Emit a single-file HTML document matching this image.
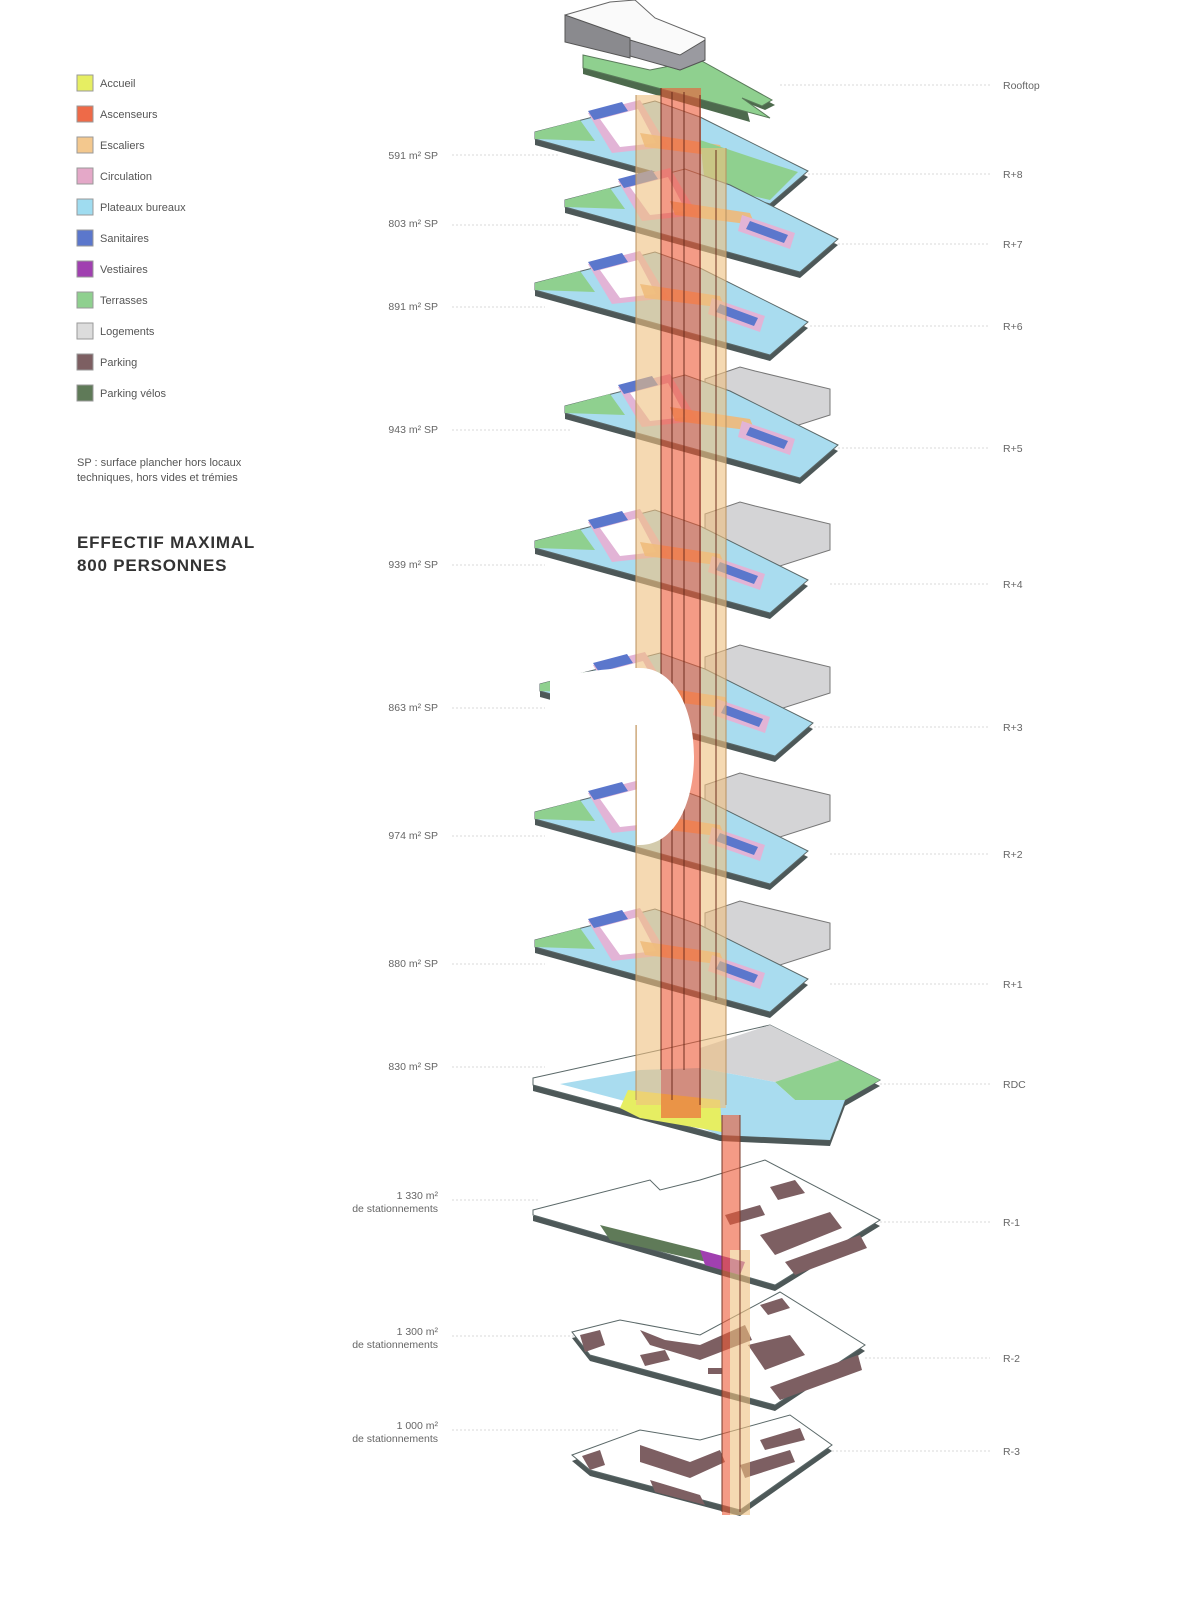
<!DOCTYPE html>
<html><head><meta charset="utf-8">
<style>
html,body{margin:0;padding:0;background:#fff;}
svg{display:block;font-family:"Liberation Sans",sans-serif;}
.lg{font-size:11px;fill:#555;}
.lb{font-size:10.5px;fill:#666;}
.ld{stroke:#d8d8d8;stroke-width:1;stroke-dasharray:2 2;}
</style></head><body>
<svg width="1180" height="1600" viewBox="0 0 1180 1600" xmlns="http://www.w3.org/2000/svg">
<defs>
<g id="fl">
  <polygon points="535,-17 655,-48 700,-32 808,22 770,55 535,-10" fill="#4d5858"/>
  <polygon points="535,-23 655,-54 700,-38 808,16 770,49 535,-16" fill="#a9dcef" stroke="#5a6868" stroke-width="1"/>
  <polygon points="535,-23 580,-35 595,-14 535,-16" fill="#8fd08f"/>
  <polygon points="588,-42 640,-55 668,-8 612,-2" fill="#e2b4d6"/>
  <polygon points="600,-36 638,-46 656,-12 620,-8" fill="#ffffff"/>
  <polygon points="588,-44 622,-53 628,-44 594,-35" fill="#5b77cc"/>
  <polygon points="640,-22 720,-10 725,2 645,-8" fill="#f0b878" opacity="0.9"/>
  <polygon points="712,-8 765,10 760,26 708,8" fill="#e2b4d6"/>
  <polygon points="720,-2 758,12 754,20 716,6" fill="#5b77cc"/>
</g>
<g id="gray">
  <polygon points="705,-50 740,-62 755,-58 830,-40 830,-14 780,2 760,-8 705,-28" fill="#d4d4d6" stroke="#777" stroke-width="1"/>
</g>
</defs>

<g>
<rect x="77" y="75" width="16" height="16" fill="#e6ee62" stroke="#999"/><text class="lg" x="100" y="87">Accueil</text>
<rect x="77" y="106" width="16" height="16" fill="#ee6a48" stroke="#999"/><text class="lg" x="100" y="118">Ascenseurs</text>
<rect x="77" y="137" width="16" height="16" fill="#f3c88e" stroke="#999"/><text class="lg" x="100" y="149">Escaliers</text>
<rect x="77" y="168" width="16" height="16" fill="#e4a8c8" stroke="#999"/><text class="lg" x="100" y="180">Circulation</text>
<rect x="77" y="199" width="16" height="16" fill="#9fdcf0" stroke="#999"/><text class="lg" x="100" y="211">Plateaux bureaux</text>
<rect x="77" y="230" width="16" height="16" fill="#5b77cc" stroke="#999"/><text class="lg" x="100" y="242">Sanitaires</text>
<rect x="77" y="261" width="16" height="16" fill="#a040b0" stroke="#999"/><text class="lg" x="100" y="273">Vestiaires</text>
<rect x="77" y="292" width="16" height="16" fill="#8fd08f" stroke="#999"/><text class="lg" x="100" y="304">Terrasses</text>
<rect x="77" y="323" width="16" height="16" fill="#dcdcdc" stroke="#999"/><text class="lg" x="100" y="335">Logements</text>
<rect x="77" y="354" width="16" height="16" fill="#7d5f62" stroke="#999"/><text class="lg" x="100" y="366">Parking</text>
<rect x="77" y="385" width="16" height="16" fill="#5f7a58" stroke="#999"/><text class="lg" x="100" y="397">Parking vélos</text>
<text class="lg" x="77" y="466" font-size="10.5">SP : surface plancher hors locaux</text>
<text class="lg" x="77" y="481" font-size="10.5">techniques, hors vides et trémies</text>
<text x="77" y="548" font-size="17" font-weight="bold" fill="#333" letter-spacing="0.8">EFFECTIF MAXIMAL</text>
<text x="77" y="571" font-size="17" font-weight="bold" fill="#333" letter-spacing="0.8">800 PERSONNES</text>
</g>

<g class="ld">
<line x1="452" y1="155" x2="560" y2="155"/><line x1="452" y1="225" x2="580" y2="225"/>
<line x1="452" y1="307" x2="545" y2="307"/><line x1="452" y1="430" x2="570" y2="430"/>
<line x1="452" y1="565" x2="545" y2="565"/><line x1="452" y1="708" x2="545" y2="708"/>
<line x1="452" y1="836" x2="545" y2="836"/><line x1="452" y1="964" x2="545" y2="964"/>
<line x1="452" y1="1067" x2="545" y2="1067"/><line x1="452" y1="1200" x2="540" y2="1200"/>
<line x1="452" y1="1336" x2="575" y2="1336"/><line x1="452" y1="1430" x2="620" y2="1430"/>
<line x1="780" y1="85" x2="990" y2="85"/><line x1="800" y1="174" x2="990" y2="174"/>
<line x1="810" y1="244" x2="990" y2="244"/><line x1="810" y1="326" x2="990" y2="326"/>
<line x1="830" y1="448" x2="990" y2="448"/><line x1="830" y1="584" x2="990" y2="584"/>
<line x1="810" y1="727" x2="990" y2="727"/><line x1="830" y1="854" x2="990" y2="854"/>
<line x1="830" y1="984" x2="990" y2="984"/><line x1="880" y1="1084" x2="990" y2="1084"/>
<line x1="880" y1="1222" x2="990" y2="1222"/><line x1="865" y1="1358" x2="990" y2="1358"/>
<line x1="832" y1="1451" x2="990" y2="1451"/>
</g>

<g class="lb" text-anchor="end">
<text x="438" y="159">591 m² SP</text><text x="438" y="227">803 m² SP</text>
<text x="438" y="310">891 m² SP</text><text x="438" y="433">943 m² SP</text>
<text x="438" y="568">939 m² SP</text><text x="438" y="711">863 m² SP</text>
<text x="438" y="839">974 m² SP</text><text x="438" y="967">880 m² SP</text>
<text x="438" y="1070">830 m² SP</text>
<text x="438" y="1199">1 330 m²</text><text x="438" y="1212">de stationnements</text>
<text x="438" y="1335">1 300 m²</text><text x="438" y="1348">de stationnements</text>
<text x="438" y="1429">1 000 m²</text><text x="438" y="1442">de stationnements</text>
</g>
<g class="lb">
<text x="1003" y="89">Rooftop</text><text x="1003" y="178">R+8</text><text x="1003" y="248">R+7</text>
<text x="1003" y="330">R+6</text><text x="1003" y="452">R+5</text><text x="1003" y="588">R+4</text>
<text x="1003" y="731">R+3</text><text x="1003" y="858">R+2</text><text x="1003" y="988">R+1</text>
<text x="1003" y="1088">RDC</text><text x="1003" y="1226">R-1</text><text x="1003" y="1362">R-2</text>
<text x="1003" y="1455">R-3</text>
</g>

<polygon points="583,60 650,75 700,65 775,105 765,110 745,102 750,122 583,74" fill="#4d6a4d"/>
<polygon points="583,55 650,70 700,60 772,100 762,106 742,98 770,118 583,68" fill="#8fd08f" stroke="#5a7a5a"/>
<polygon points="565,15 610,2 635,0 655,18 705,38 705,60 680,70 630,55 630,40 565,40" fill="#fafafa" stroke="#666"/>
<polygon points="565,15 565,42 630,58 630,38" fill="#8a8a8e" stroke="#555"/>
<polygon points="630,40 680,55 705,40 705,60 680,70 630,56" fill="#9a9aa0" stroke="#555"/>

<use href="#fl" transform="translate(0,155)"/>
<polygon points="700,140 760,160 798,172 770,200 705,185" fill="#8fd08f"/>
<use href="#fl" transform="translate(30,223)"/>
<use href="#fl" transform="translate(0,306)"/>
<use href="#gray" transform="translate(0,429)"/>
<use href="#fl" transform="translate(30,429)"/>
<use href="#gray" transform="translate(0,564)"/>
<use href="#fl" transform="translate(0,564)"/>
<use href="#gray" transform="translate(0,707)"/>
<use href="#fl" transform="translate(5,707)"/>
<use href="#gray" transform="translate(0,835)"/>
<use href="#fl" transform="translate(0,835)"/>
<use href="#gray" transform="translate(0,963)"/>
<use href="#fl" transform="translate(0,963)"/>

<polygon points="533,1084 660,1056 770,1031 880,1086 845,1106 830,1146 720,1141 533,1091" fill="#4d5858"/>
<polygon points="533,1078 660,1050 770,1025 880,1080 845,1100 830,1140 720,1135 533,1085" fill="#fff" stroke="#5a6868"/>
<polygon points="700,1048 770,1025 840,1060 775,1082 700,1068" fill="#d4d4d6"/>
<polygon points="775,1082 840,1060 880,1080 845,1100 795,1100" fill="#8fd08f"/>
<polygon points="560,1084 640,1070 700,1068 775,1082 795,1100 845,1100 830,1140 720,1135 640,1105" fill="#a9dcef"/>
<polygon points="628,1090 720,1100 722,1132 640,1118 620,1108" fill="#e6ee62"/>

<polygon points="533,1216 650,1186 660,1196 700,1186 765,1166 880,1226 775,1291 533,1221" fill="#4d5858"/>
<polygon points="533,1210 650,1180 660,1190 700,1180 765,1160 880,1220 775,1285 533,1215" fill="#fff" stroke="#5a6868"/>
<polygon points="600,1225 700,1250 720,1265 610,1240" fill="#5f7a58"/>
<polygon points="700,1250 745,1262 740,1275 705,1265" fill="#a040b0"/>
<g fill="#7d5f62">
<polygon points="770,1187 795,1180 805,1193 778,1200"/>
<polygon points="725,1215 760,1205 765,1215 730,1225"/>
<polygon points="760,1235 830,1212 842,1228 775,1255"/>
<polygon points="785,1262 860,1235 867,1248 795,1275"/>
</g>
<polygon points="572,1338 620,1326 700,1341 780,1298 865,1351 775,1411 590,1361" fill="#4d5858"/>
<polygon points="572,1332 620,1320 700,1335 780,1292 865,1345 775,1405 590,1355" fill="#fff" stroke="#5a6868"/>
<g fill="#7d5f62">
<polygon points="580,1335 600,1330 605,1345 585,1352"/>
<polygon points="640,1330 665,1340 700,1345 745,1325 752,1340 700,1360 650,1345"/>
<polygon points="640,1355 665,1350 670,1360 645,1366"/>
<polygon points="760,1305 782,1298 790,1308 768,1315"/>
<polygon points="748,1345 790,1335 805,1355 765,1370"/>
<polygon points="770,1387 858,1355 862,1370 780,1400"/>
<rect x="708" y="1368" width="14" height="6"/>
</g>
<polygon points="572,1461 640,1436 700,1446 790,1421 832,1451 740,1516 590,1476" fill="#4d5858"/>
<polygon points="572,1455 640,1430 700,1440 790,1415 832,1445 740,1510 590,1470" fill="#fff" stroke="#5a6868"/>
<g fill="#7d5f62">
<polygon points="582,1456 600,1450 605,1465 590,1470"/>
<polygon points="640,1445 690,1462 720,1450 725,1462 690,1478 640,1462"/>
<polygon points="650,1480 700,1495 705,1505 655,1492"/>
<polygon points="760,1440 800,1428 805,1440 765,1450"/>
<polygon points="740,1465 790,1450 795,1462 745,1478"/>
</g>

<g opacity="0.6">
<rect x="636" y="95" width="25" height="1010" fill="#f0c080"/>
<rect x="700" y="148" width="26" height="960" fill="#f0c080"/>
<rect x="661" y="88" width="40" height="1030" fill="#ee5a36"/>
</g>
<g stroke="#6a2a1a" stroke-width="1.2" opacity="0.8">
<line x1="661" y1="88" x2="661" y2="1070"/><line x1="672" y1="92" x2="672" y2="1100"/>
<line x1="684" y1="92" x2="684" y2="1070"/><line x1="700" y1="95" x2="700" y2="1105"/>
<line x1="716" y1="150" x2="716" y2="1000"/>
</g>
<line x1="636" y1="95" x2="636" y2="1100" stroke="#b89060" stroke-width="1"/>
<line x1="726" y1="148" x2="726" y2="1105" stroke="#b89060" stroke-width="1"/>
<g opacity="0.6">
<rect x="722" y="1115" width="18" height="400" fill="#ee5a36"/>
<rect x="730" y="1250" width="20" height="265" fill="#f0c080"/>
</g>
<line x1="722" y1="1115" x2="722" y2="1512" stroke="#7a3a2a"/>
<line x1="740" y1="1115" x2="740" y2="1512" stroke="#7a3a2a"/>

<path d="M550,680 Q590,668 640,668 C712,668 712,845 640,845 L637,845 L637,725 L550,725 Z" fill="#fff"/>
</svg>
</body></html>
